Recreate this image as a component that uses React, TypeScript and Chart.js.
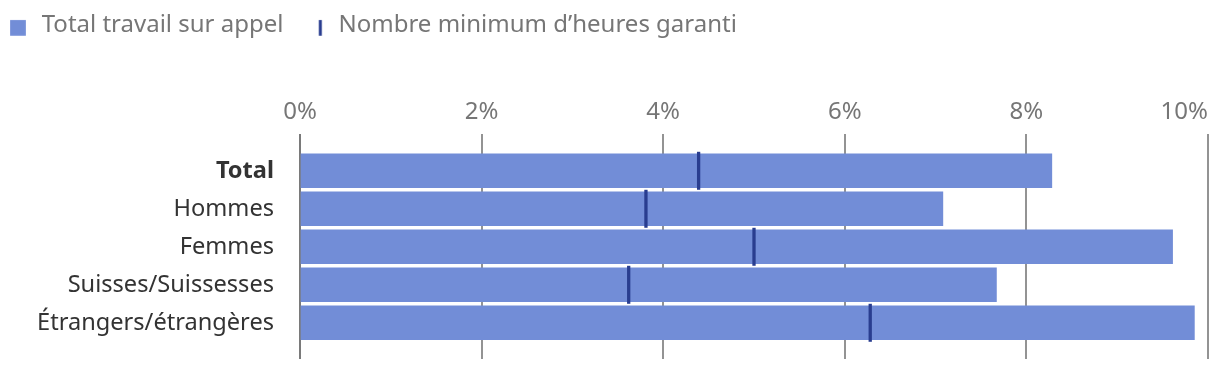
import React, { useEffect, useRef } from 'react';
import { Chart, registerables } from 'chart.js';

Chart.register(...registerables);

const CATEGORIES = ['Total', 'Hommes', 'Femmes', 'Suisses/Suissesses', 'Étrangers/étrangères'];
const TOTAL_ON_CALL = [8.28, 7.08, 9.61, 7.67, 9.85];
const MIN_HOURS = [4.39, 3.81, 5.0, 3.62, 6.28];
const SERIES_LABELS = ['Total travail sur appel', 'Nombre minimum d\u2019heures garanti'];
const X_TICKS = [0, 2, 4, 6, 8, 10];

const BAR_COLOR = '#728dd7';
const MARK_COLOR = '#293d8f';
const FONT = "'Noto Sans', sans-serif";
const FS = 24;
const CAT_FS = 23.6;
const LEG_PAD = 19.3;
const LEG_BOX = 23.7;
const PAD_LEFT = -13.3;
const PAD_TOP = -6.4;
const PLOT_TOP = 134;

function makeSquareIcon(): HTMLCanvasElement {
  const c = document.createElement('canvas');
  c.width = 16;
  c.height = 24;
  const g = c.getContext('2d')!;
  g.fillStyle = BAR_COLOR;
  g.fillRect(0.15, 12 + 2.95 - 7.85, 15.7, 15.7);
  return c;
}

function makeLineIcon(): HTMLCanvasElement {
  const c = document.createElement('canvas');
  c.width = 28;
  c.height = 24;
  const g = c.getContext('2d')!;
  g.fillStyle = MARK_COLOR;
  g.fillRect(14 + 5.65 - 1.5, 12 + 2.95 - 7.85, 3, 15.7);
  return c;
}

const lastTickRight = {
  id: 'lastTickRight',
  beforeDraw(chart: any) {
    const items = chart.scales.x.getLabelItems();
    if (items.length) items[items.length - 1].options.textAlign = 'right';
  },
};

export default function App() {
  const ref = useRef<HTMLCanvasElement>(null);
  useEffect(() => {
    if (!ref.current) return;
    const icons = [makeSquareIcon(), makeLineIcon()];
    const legendHeight = FS + LEG_PAD + 10;
    const chart = new Chart(ref.current, {
      type: 'bar',
      data: {
        datasets: [
          {
            type: 'bar',
            label: SERIES_LABELS[0],
            data: TOTAL_ON_CALL.map((v, i) => ({ x: v, y: i })),
            backgroundColor: BAR_COLOR,
            borderWidth: 0,
            barThickness: 33.7,
            order: 1,
          } as any,
          {
            type: 'line',
            label: SERIES_LABELS[1],
            data: MIN_HOURS.map((v, i) => ({ x: v, y: i })),
            showLine: false,
            pointStyle: 'line',
            pointRotation: 90,
            pointRadius: 19,
            pointHoverRadius: 19,
            pointBorderWidth: 3.3,
            pointBorderColor: MARK_COLOR,
            pointBackgroundColor: MARK_COLOR,
            borderColor: MARK_COLOR,
            clip: false,
            order: 0,
          } as any,
        ],
      },
      options: {
        animation: false,
        responsive: true,
        maintainAspectRatio: false,
        indexAxis: 'y',
        font: { family: FONT },
        layout: { autoPadding: false, padding: { left: PAD_LEFT, top: PAD_TOP, right: 12, bottom: 13 } },
        plugins: {
          tooltip: { enabled: false },
          legend: {
            position: 'top',
            align: 'start',
            labels: {
              usePointStyle: true,
              pointStyleWidth: LEG_BOX,
              padding: LEG_PAD,
              color: '#767676',
              font: { size: FS, family: FONT },
              generateLabels: () =>
                SERIES_LABELS.map((text, i) => ({
                  text,
                  fillStyle: i === 0 ? BAR_COLOR : MARK_COLOR,
                  strokeStyle: i === 0 ? BAR_COLOR : MARK_COLOR,
                  lineWidth: 0,
                  pointStyle: icons[i],
                  rotation: 0,
                  hidden: false,
                  datasetIndex: i,
                  fontColor: '#767676',
                })),
            },
          },
        },
        scales: {
          x: {
            type: 'linear',
            position: 'top',
            min: X_TICKS[0],
            max: X_TICKS[X_TICKS.length - 1],
            afterBuildTicks: (s: any) => {
              s.ticks = X_TICKS.map((v) => ({ value: v }));
            },
            ticks: {
              callback: (v: any) => `${v}%`,
              color: '#767676',
              font: { size: FS, family: FONT },
              padding: 7.9,
              maxRotation: 0,
              autoSkip: false,
            },
            grid: {
              drawTicks: false,
              tickLength: 0,
              lineWidth: 2,
              color: (ctx: any) => (ctx.tick && ctx.tick.value === 0 ? '#7a7a7a' : '#939393'),
            },
            border: { display: false },
            afterFit: (s: any) => {
              s.paddingLeft = 0;
              s.paddingRight = 0;
              s.height = PLOT_TOP - (PAD_TOP + legendHeight);
            },
          },
          y: {
            type: 'linear',
            reverse: true,
            bounds: 'data',
            offset: false,
            grace: 0,
            min: -0.968,
            max: 4.953,
            afterBuildTicks: (s: any) => {
              s.ticks = CATEGORIES.map((_, i) => ({ value: i }));
            },
            ticks: {
              callback: (v: any) => CATEGORIES[v as number],
              color: '#333333',
              padding: 26,
              autoSkip: false,
              font: (ctx: any) => ({ size: CAT_FS, family: FONT, weight: ctx.index === 0 ? 'bold' : 'normal' }),
            },
            grid: { display: false, drawTicks: false, offset: false },
            border: { display: false },
            afterFit: (s: any) => {
              s.width = 300 - PAD_LEFT;
              s.paddingTop = 0;
              s.paddingBottom = 0;
            },
          },
        },
      } as any,
      plugins: [lastTickRight],
    });
    return () => chart.destroy();
  }, []);

  return (
    <div style={{ position: 'absolute', left: 0, top: 0, width: 1220, height: 372 }}>
      <canvas ref={ref} />
    </div>
  );
}
